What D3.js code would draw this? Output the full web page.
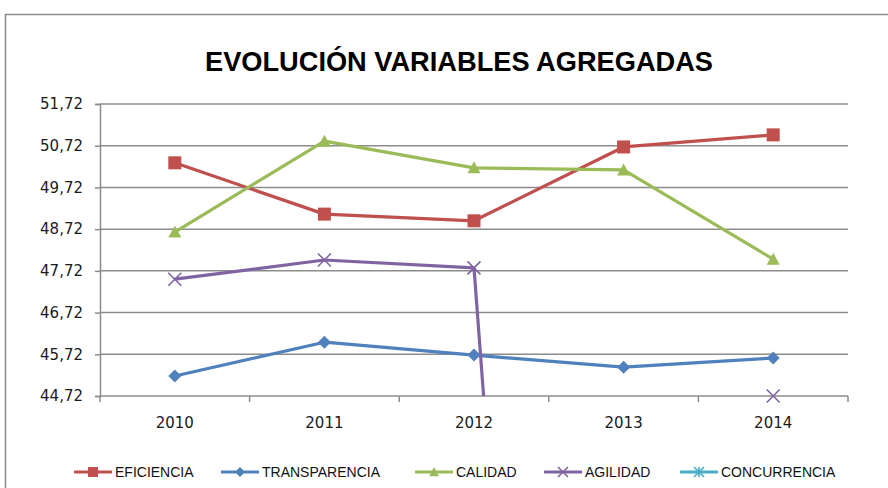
<!DOCTYPE html>
<html>
<head>
<meta charset="utf-8">
<script src="https://cdn.jsdelivr.net/npm/d3@7"></script>
<style>
  html, body { margin: 0; padding: 0; background: #fff; }
  svg { display: block; }
</style>
</head>
<body>
<svg id="chart" width="888" height="488"></svg>
<script>
// Years on the category axis
const years = ["2010", "2011", "2012", "2013", "2014"];

// Aggregated variables, one value per year (null = no data)
const eficiencia    = [50.31, 49.08, 48.92, 50.69, 50.98];
const transparencia = [45.20, 46.01, 45.70, 45.41, 45.63];
const calidad       = [48.65, 50.83, 50.19, 50.14, 48.00];
const agilidad      = [47.52, 47.98, 47.79, 0, 44.72];
const concurrencia  = [null, null, null, null, null];

// Value axis ticks and their labels
const yTicks      = [44.72, 45.72, 46.72, 47.72, 48.72, 49.72, 50.72, 51.72];
const yTickLabels = ["44,72", "45,72", "46,72", "47,72", "48,72", "49,72", "50,72", "51,72"];

const seriesNames = ["EFICIENCIA", "TRANSPARENCIA", "CALIDAD", "AGILIDAD", "CONCURRENCIA"];
const seriesData  = [eficiencia, transparencia, calidad, agilidad, concurrencia];
const colors  = ["#C0504D", "#4F81BD", "#9BBB59", "#8064A2", "#4BACC6"];
const markers = ["square", "diamond", "triangle", "x", "star"];

const svg = d3.select("#chart");
const gridColor = "#8c8c8c";
const labelFont = "DejaVu Sans, Verdana, sans-serif";

// Chart frame (runs past the right and bottom edges of the page)
svg.append("rect")
  .attr("x", 5.5).attr("y", 14.5)
  .attr("width", 900).attr("height", 500)
  .attr("fill", "#fff")
  .attr("stroke", "#8c8c8c").attr("stroke-width", 1.5);

// Title
svg.append("text")
  .attr("x", 459).attr("y", 71)
  .attr("text-anchor", "middle")
  .attr("font-family", "Liberation Sans, Arial, sans-serif")
  .attr("font-weight", "bold")
  .attr("font-size", 28)
  .attr("textLength", 508)
  .attr("lengthAdjust", "spacingAndGlyphs")
  .attr("fill", "#000")
  .text("EVOLUCIÓN VARIABLES AGREGADAS");

const plot = { left: 100, right: 848, top: 104, bottom: 396 };

const x = d3.scaleBand().domain(years).range([plot.left, plot.right]);
const y = d3.scaleLinear().domain([yTicks[0], yTicks[yTicks.length - 1]])
  .range([plot.bottom, plot.top]);

// Horizontal gridlines
svg.append("g")
  .selectAll("line")
  .data(yTicks.slice(1))
  .join("line")
  .attr("x1", plot.left).attr("x2", plot.right)
  .attr("y1", d => y(d)).attr("y2", d => y(d))
  .attr("stroke", gridColor).attr("stroke-width", 1.5);

// Value axis
const yAxis = d3.axisLeft(y)
  .tickValues(yTicks)
  .tickFormat((d, i) => yTickLabels[i])
  .tickSize(5)
  .tickPadding(12);
const gy = svg.append("g")
  .attr("transform", `translate(${plot.left},0)`)
  .call(yAxis);
gy.select(".domain").attr("stroke", gridColor).attr("stroke-width", 1.5);
gy.selectAll(".tick line").attr("stroke", gridColor).attr("stroke-width", 1.5);
gy.selectAll(".tick text")
  .attr("font-family", labelFont)
  .attr("font-size", 15)
  .attr("fill", "#1a1a1a");

// Category axis with ticks between categories
const xAxis = d3.axisBottom(x).tickSize(0).tickPadding(21);
const gx = svg.append("g")
  .attr("transform", `translate(0,${plot.bottom})`)
  .call(xAxis);
gx.select(".domain").remove();
gx.selectAll(".tick text")
  .attr("font-family", labelFont)
  .attr("font-size", 15)
  .attr("fill", "#1a1a1a");
gx.append("line")
  .attr("x1", plot.left).attr("x2", plot.right)
  .attr("y1", 0).attr("y2", 0)
  .attr("stroke", gridColor).attr("stroke-width", 1.5);
gx.selectAll(".sep")
  .data(years.map(yr => x(yr)).concat([plot.right]))
  .join("line")
  .attr("class", "sep")
  .attr("x1", d => d).attr("x2", d => d)
  .attr("y1", 0).attr("y2", 6)
  .attr("stroke", gridColor).attr("stroke-width", 1.5);

// Clip lines to the plotting area
svg.append("defs").append("clipPath").attr("id", "plotClip")
  .append("rect")
  .attr("x", plot.left).attr("y", plot.top)
  .attr("width", plot.right - plot.left)
  .attr("height", plot.bottom - plot.top);

const cx = i => x(years[i]) + x.bandwidth() / 2;

const line = d3.line()
  .defined(d => d != null)
  .x((d, i) => cx(i))
  .y(d => y(d));

// Marker drawing helper
function drawMarker(g, type, px, py, s, color) {
  const h = s / 2;
  if (type === "square") {
    g.append("rect").attr("x", px - h).attr("y", py - h)
      .attr("width", s).attr("height", s).attr("fill", color);
  } else if (type === "diamond") {
    g.append("path")
      .attr("d", `M${px},${py - h}L${px + h},${py}L${px},${py + h}L${px - h},${py}Z`)
      .attr("fill", color);
  } else if (type === "triangle") {
    g.append("path")
      .attr("d", `M${px},${py - h}L${px + h},${py + h * 0.85}L${px - h},${py + h * 0.85}Z`)
      .attr("fill", color);
  } else if (type === "x") {
    g.append("path")
      .attr("d", `M${px - h},${py - h}L${px + h},${py + h}M${px + h},${py - h}L${px - h},${py + h}`)
      .attr("stroke", color).attr("stroke-width", 1.6).attr("fill", "none");
  } else if (type === "star") {
    g.append("path")
      .attr("d", `M${px - h},${py - h}L${px + h},${py + h}M${px + h},${py - h}L${px - h},${py + h}M${px},${py - h}L${px},${py + h}`)
      .attr("stroke", color).attr("stroke-width", 1.6).attr("fill", "none");
  }
}

const seriesG = svg.append("g");
seriesData.forEach((vals, si) => {
  seriesG.append("path")
    .datum(vals)
    .attr("d", line)
    .attr("clip-path", "url(#plotClip)")
    .attr("fill", "none")
    .attr("stroke", colors[si])
    .attr("stroke-width", 3.2)
    .attr("stroke-linejoin", "round");
});
seriesData.forEach((vals, si) => {
  const g = seriesG.append("g");
  vals.forEach((v, i) => {
    if (v == null) return;
    if (v < y.domain()[0] - 1e-6 || v > y.domain()[1] + 1e-6) return;
    drawMarker(g, markers[si], cx(i), y(v), 13, colors[si]);
  });
});

// Legend
const legendX = [74, 221, 415, 544, 680];
const legY = 472;
const legend = svg.append("g");
seriesNames.forEach((name, i) => {
  const lx = legendX[i];
  const g = legend.append("g");
  g.append("line")
    .attr("x1", lx).attr("x2", lx + 38)
    .attr("y1", legY).attr("y2", legY)
    .attr("stroke", colors[i]).attr("stroke-width", 3.2);
  drawMarker(g, markers[i], lx + 19, legY, 10, colors[i]);
  g.append("text")
    .attr("x", lx + 41).attr("y", legY)
    .attr("dy", "0.36em")
    .attr("font-family", "Liberation Sans, Arial, sans-serif")
    .attr("font-size", 14)
    .attr("fill", "#111")
    .text(name);
});
</script>
</body>
</html>
